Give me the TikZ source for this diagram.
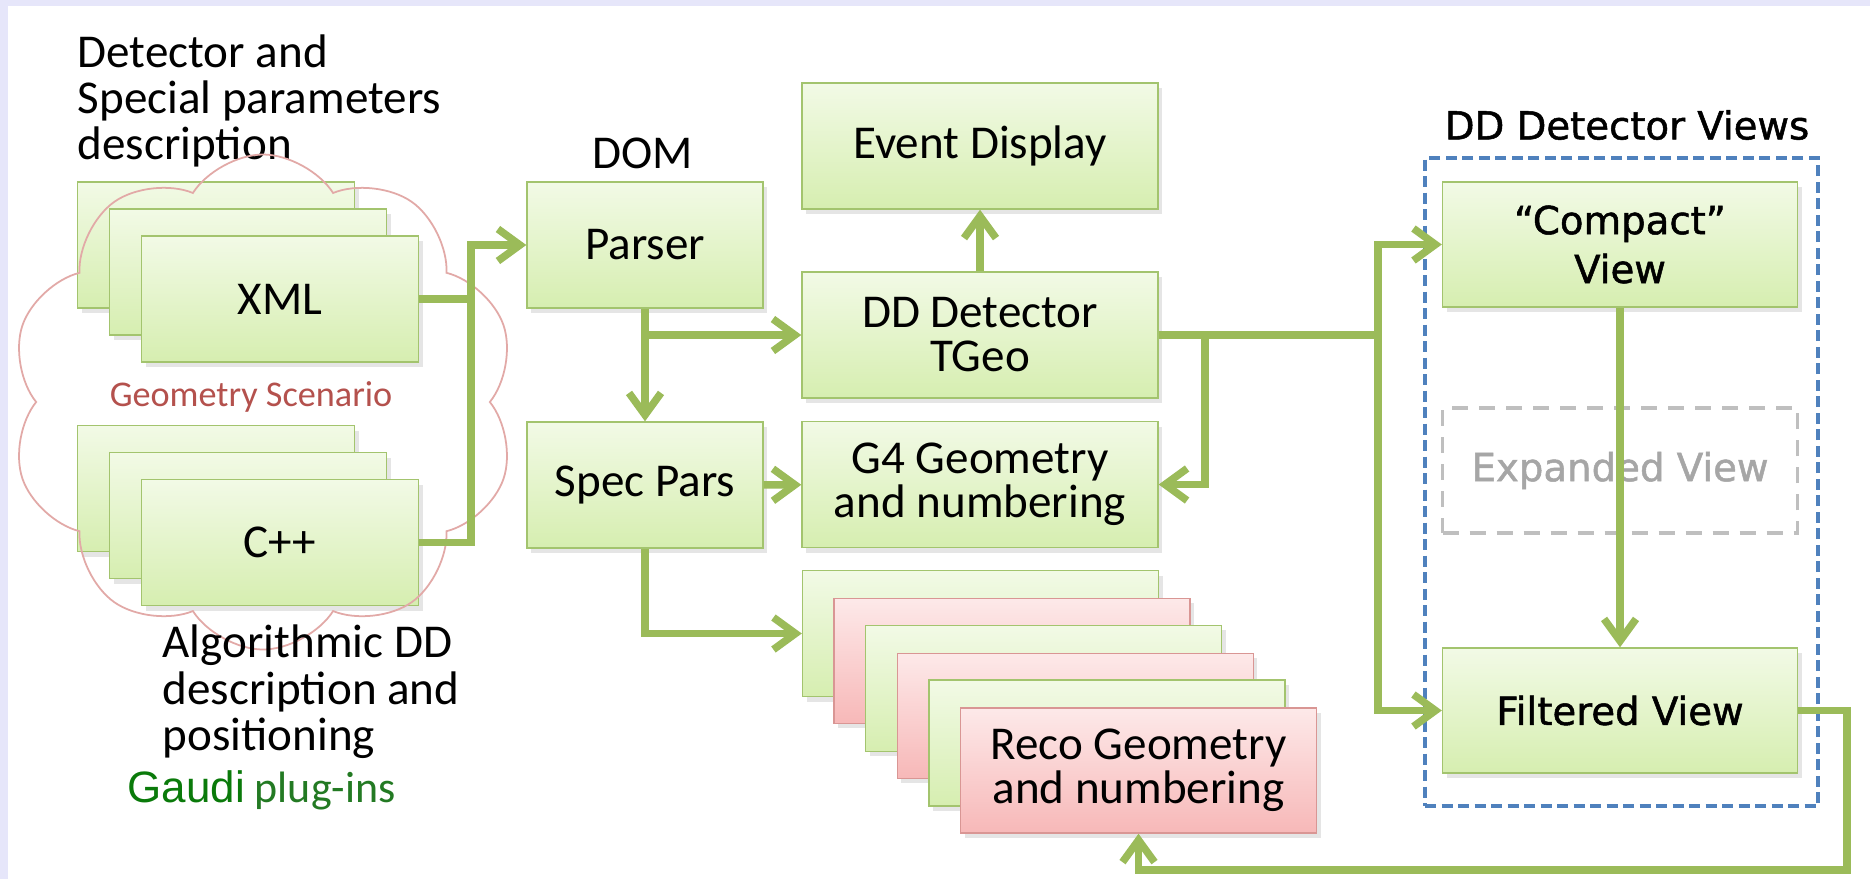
\documentclass[tikz,border=0pt]{standalone}
\usepackage{fontspec}
\setmainfont{Carlito}
\newfontfamily\viewfont[RawFeature={embolden=1.3}]{DejaVu Sans}
\newfontfamily\gaudifont{Liberation Sans}
\usetikzlibrary{positioning,arrows.meta,shapes.symbols,shadows}
\definecolor{lavender}{HTML}{E6E6FA}
\definecolor{linkgreen}{HTML}{9BBB59}
\definecolor{boxedge}{HTML}{A3C46E}
\definecolor{boxtop}{HTML}{F2FAE6}
\definecolor{boxbottom}{HTML}{D6EEB0}
\definecolor{rededge}{HTML}{D99694}
\definecolor{redtop}{HTML}{FDE9E9}
\definecolor{redbottom}{HTML}{F7B8B8}
\definecolor{viewblue}{HTML}{4F81BD}
\definecolor{dashgray}{HTML}{BFBFBF}
\definecolor{graytext}{HTML}{A6A6A6}
\definecolor{cloudpink}{HTML}{E2A9A7}
\definecolor{scenred}{HTML}{B4514D}
\definecolor{gaudigreen}{HTML}{0A7A0A}
\definecolor{plugreen}{HTML}{237A23}

\begin{document}
\begin{tikzpicture}[x=0.1mm,y=-0.1mm,on grid,node distance=24mm,
	box/.style={draw=boxedge,line width=0.4pt,top color=boxtop,bottom color=boxbottom,minimum width=35.6mm,minimum height=12.6mm,inner sep=0pt,align=center,font=\fontsize{13.4}{12.5}\selectfont,drop shadow={opacity=0.2,shadow xshift=0.4mm,shadow yshift=-0.5mm}},
	redbox/.style={box,draw=rededge,top color=redtop,bottom color=redbottom,minimum height=12.5mm},
	narrow/.style={minimum width=23.6mm},
	stack/.style={minimum width=27.7mm},
	view/.style={box,minimum width=35.5mm,minimum height=12.5mm,font=\viewfont\fontsize{11}{13.9}\selectfont},
	link/.style={draw=linkgreen,line width=0.75mm,-{Straight Barb[length=2.2mm,width=3.2mm]}},
	note/.style={align=left,inner sep=0pt,font=\fontsize{13.4}{13.2}\selectfont}]
	\fill[lavender] (0,0) rectangle (1870,879);
	\fill[white] (8,6) rectangle (1870,879);
	\useasboundingbox (0,0) rectangle (1870,879);

	\node[note,anchor=west] (dettext) at (77,101) {Detector and\\Special parameters\\description};
	\node[note] (dom) at (643,153) {DOM};
	\node[note,font=\viewfont\fontsize{11}{13}\selectfont] (viewtitle) at (1627,125) {DD Detector Views};

	\foreach \k in {2,1}
		\node[box,stack] (xml\k) at (280-32*\k,299-27*\k) {};
	\node[box,stack] (xml) at (280,299) {XML};
	\foreach \k in {2,1}
		\node[box,stack] (cpp\k) at (280-32*\k,542.5-27*\k) {};
	\node[box,stack] (cpp) at (280,542.5) {C++};

	\node[cloud,draw=cloudpink,line width=0.5pt,cloud puffs=10,cloud puff arc=115,aspect=1,minimum width=50.6mm,minimum height=49.5mm,inner sep=0pt] (scenario) at (263,402) {};
	\node[font=\fontsize{10.3}{12}\selectfont,text=scenred] (scentext) at (251,397) {Geometry Scenario};
	\node[note,anchor=west] (algtext) at (162,692) {Algorithmic DD\\description and\\positioning};
	\node[note,anchor=west,font=\fontsize{12.5}{14}\selectfont] (gaudi) at (127,790) {{\gaudifont\color{gaudigreen}Gaudi} \textcolor{plugreen}{plug-ins}};

	\node[box,narrow] (parser) at (645,245) {Parser};
	\node[box,narrow] (spec) [below=24mm of parser] {Spec Pars};
	\node[box] (tgeo) at (980,335) {DD Detector\\TGeo};
	\node[box] (evd) [above=18.9mm of tgeo] {Event Display};
	\node[box] (g4) [below=14.95mm of tgeo] {G4 Geometry\\and numbering};

	\foreach \k/\s in {0/box,1/redbox,2/box,3/redbox,4/box}
		\node[\s] (reco\k) at (980.5+31.6*\k,633.5+27.4*\k) {};
	\node[redbox] (reco) at (1138.5,770.5) {Reco Geometry\\and numbering};

	\node[draw=viewblue,line width=1.3pt,dash pattern=on 1.1mm off 0.55mm,minimum width=39.3mm,minimum height=64.8mm] (views) at (1621.5,482) {};
	\node[view] (compact) at (1620,244.5) {“Compact”\\View};
	\node[draw=dashgray,line width=1.1pt,dash pattern=on 1.6mm off 1.1mm,minimum width=35.5mm,minimum height=12.5mm,text=graytext,font=\viewfont\fontsize{11}{13.9}\selectfont] (expanded) at (1620,470.5) {Expanded View};
	\node[view] (filtered) at (1620,710.5) {Filtered View};

	\coordinate (busL) at (471,0);
	\coordinate (busR) at (1378,0);
	\coordinate (stub) at (1205,0);
	\coordinate (ret) at (1847,870);
	\draw[link] (xml.east) -- (xml.east -| busL) |- (parser.west);
	\draw[link,-] (cpp.east) -| (xml.east -| busL);
	\path (parser) edge[link] (spec)
		(parser.south |- tgeo.west) edge[link] (tgeo.west)
		(tgeo) edge[link] (evd)
		(spec) edge[link] (g4);
	\draw[link] (spec.south) |- (reco0.west);
	\draw[link] (tgeo.east) -- (tgeo.east -| busR) |- (compact.west);
	\draw[link] (tgeo.east -| busR) |- (filtered.west);
	\draw[link] (tgeo.east -| stub) |- (g4.east);
	\draw[link] (compact) -- (filtered);
	\draw[link] (filtered.east) -| (ret) -| (reco.south);
\end{tikzpicture}
\end{document}
